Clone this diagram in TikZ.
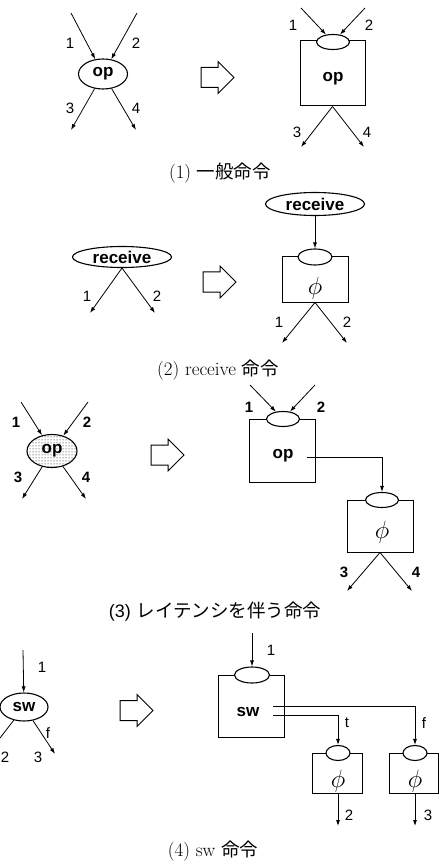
\documentclass[tikz,border=0pt]{standalone}
\usepackage{fontspec}
\usetikzlibrary{arrows.meta,shapes.geometric,patterns}
\newfontfamily\hv{Liberation Sans}
\newfontfamily\jp{Noto Sans CJK JP}
\tikzset{
  conn/.style={line width=0.8pt,-{Latex[length=6pt,width=4pt]}},
  plainline/.style={line width=0.8pt},
  bigell/.style={ellipse,draw,line width=1.1pt,inner sep=0pt,fill=white},
  smell/.style={ellipse,draw,line width=1.1pt,fill=white,minimum width=33pt,minimum height=15pt,inner sep=0pt},
  blk/.style={draw,line width=1pt,rectangle,inner sep=0pt},
  num/.style={font=\hv\fontsize{15}{15}\selectfont,inner sep=0pt},
  bnum/.style={font=\hv\bfseries\fontsize{15}{15}\selectfont,inner sep=0pt},
  optxt/.style={font=\hv\bfseries\fontsize{17}{17}\selectfont,inner sep=0pt},
  phitxt/.style={font=\fontsize{25}{25}\selectfont,inner sep=0pt},
  captxt/.style={font=\fontsize{19}{19}\selectfont,inner sep=0pt},
  hollow/.pic={\draw[line width=1pt,fill=white] (0,-10) -- (17,-10) -- (17,-16) -- (33,0) -- (17,16) -- (17,10) -- (0,10) -- cycle;}
}
\newcommand{\jcap}[1]{{\jp\fontsize{18.5}{18.5}\selectfont #1}}
\begin{document}
\begin{tikzpicture}[x=1pt,y=-1pt]
\useasboundingbox (0,0) rectangle (442,866);

% ===== (1) =====
\node[bigell,minimum width=49pt,minimum height=30pt,optxt] (op1) at (103,74) {op};
\coordinate (a1) at (71,13);
\coordinate (a2) at (137,13);
\coordinate (a3) at (71,130);
\coordinate (a4) at (136,130);
\draw[conn] (a1) -- (op1);
\draw[conn] (a2) -- (op1);
\draw[conn] (op1) -- (a3);
\draw[conn] (op1) -- (a4);
\node[num] (l11) at (70,43) {1};
\node[num] (l12) at (136,43) {2};
\node[num] (l13) at (70,108) {3};
\node[num] (l14) at (136,108) {4};
\pic at (201,77.5) {hollow};

\node[blk,minimum width=65pt,minimum height=65pt] (b1) at (332.5,73.5) {};
\node[smell] (e1) at (333,42) {};
\node[optxt] (t1) at (333,79) {op};
\coordinate (r1) at (301,8);
\coordinate (r2) at (365,8);
\coordinate (r3) at (301,147);
\coordinate (r4) at (364,147);
\draw[conn] (r1) -- (e1);
\draw[conn] (r2) -- (e1);
\draw[conn] (b1.south) -- (r3);
\draw[conn] (b1.south) -- (r4);
\node[num] (m11) at (293,25) {1};
\node[num] (m12) at (369,25) {2};
\node[num] (m13) at (297,132) {3};
\node[num] (m14) at (367,132) {4};
\node[captxt] (cap1) at (220,173) {(1) \jcap{一般命令}};

% ===== (2) =====
\node[bigell,minimum width=99pt,minimum height=21pt,optxt] (rc1) at (122,257) {receive};
\coordinate (p1) at (90,313);
\coordinate (p2) at (155,313);
\draw[conn] (rc1.south) -- (p1);
\draw[conn] (rc1.south) -- (p2);
\node[num] (l21) at (87,296) {1};
\node[num] (l22) at (157,296) {2};
\pic at (203,282) {hollow};

\node[bigell,minimum width=99pt,minimum height=23pt,optxt] (rc2) at (315,204) {receive};
\node[blk,minimum width=66pt,minimum height=45pt] (b2) at (315,279.5) {};
\node[smell,minimum width=34pt,minimum height=16pt] (e2) at (315,257) {};
\node[phitxt] (ph2) at (315,288) {$\phi$};
\draw[conn] (rc2) -- (e2);
\coordinate (q1) at (282,343);
\coordinate (q2) at (347,343);
\draw[conn] (b2.south) -- (q1);
\draw[conn] (b2.south) -- (q2);
\node[num] (m21) at (279,322) {1};
\node[num] (m22) at (347,322) {2};
\node[captxt] (cap2) at (218,370) {(2) receive \jcap{命令}};

% ===== (3) =====
\node[ellipse,draw,line width=1.1pt,inner sep=0pt,pattern=dots,minimum width=50pt,minimum height=33pt] (op3) at (52,451) {};
\node[optxt] (op3t) at (52,451) {op};
\coordinate (c1) at (21,402);
\coordinate (c2) at (88,402);
\coordinate (c3) at (22,499);
\coordinate (c4) at (86,499);
\draw[conn] (c1) -- (op3);
\draw[conn] (c2) -- (op3);
\draw[conn] (op3) -- (c3);
\draw[conn] (op3) -- (c4);
\node[bnum] (l31) at (16,422) {1};
\node[bnum] (l32) at (87,422) {2};
\node[bnum] (l33) at (18,477) {3};
\node[bnum] (l34) at (86,477) {4};
\pic at (151,455) {hollow};

\node[blk,minimum width=66pt,minimum height=63pt] (b3) at (282,450.5) {};
\node[smell] (e3) at (283,419) {};
\node[optxt] (t3) at (283,456) {op};
\coordinate (d1) at (250,385);
\coordinate (d2) at (315,385);
\draw[conn] (d1) -- (e3);
\draw[conn] (d2) -- (e3);
\node[bnum] (m31) at (249,407) {1};
\node[bnum] (m32) at (321,407) {2};
\node[blk,minimum width=66pt,minimum height=52pt] (b3b) at (380,526) {};
\node[smell] (e3b) at (382,500) {};
\node[phitxt] (ph3) at (382,532) {$\phi$};
\coordinate (o3) at (307,457);
\draw[conn] (o3) -| (e3b);
\coordinate (d3) at (347,591);
\coordinate (d4) at (412,591);
\draw[conn] (b3b.south) -- (d3);
\draw[conn] (b3b.south) -- (d4);
\node[bnum] (m33) at (344,572) {3};
\node[bnum] (m34) at (416,572) {4};
\node[captxt] (cap3) at (215,612) {{\hv\fontsize{18}{18}\selectfont (3)} \jcap{レイテンシを伴う命令}};

% ===== (4) =====
\node[bigell,minimum width=48pt,minimum height=28pt,optxt] (sw1) at (24,707) {sw};
\coordinate (s0) at (23,650);
\coordinate (sL) at (0,738);
\coordinate (sR) at (55,754);
\draw[conn] (s0) -- (sw1);
\draw[plainline] (sw1) -- (sL);
\draw[conn] (sw1) -- (sR);
\node[num] (l41) at (42,667) {1};
\node[num] (l4f) at (48,733) {f};
\node[num] (l42) at (5,757) {2};
\node[num] (l43) at (38,757) {3};
\pic at (120,710.5) {hollow};

\node[blk,minimum width=66pt,minimum height=62pt] (b4) at (251,706) {};
\node[smell,minimum width=35pt,minimum height=16pt] (e4) at (252,675) {};
\node[optxt] (t4) at (248,712) {sw};
\coordinate (g0) at (252,633);
\draw[conn] (g0) -- (e4);
\node[num] (m41) at (271,650) {1};
\node[blk,minimum width=50pt,minimum height=40pt] (b4t) at (337,773) {};
\node[blk,minimum width=49pt,minimum height=40pt] (b4f) at (413.5,773) {};
\node[smell,minimum width=24pt,minimum height=15pt] (e4t) at (338,753) {};
\node[smell,minimum width=24pt,minimum height=15pt] (e4f) at (415,753) {};
\node[phitxt] (ph4t) at (338,781) {$\phi$};
\node[phitxt] (ph4f) at (415,781) {$\phi$};
\coordinate (of) at (273,706);
\coordinate (ot) at (273,715);
\draw[conn] (of) -| (e4f);
\draw[conn] (ot) -| (e4t);
\node[num] (m4t) at (347,723) {t};
\node[num] (m4f) at (424,723) {f};
\coordinate (z2) at (338,826);
\coordinate (z3) at (415,826);
\draw[conn] (b4t.south -| e4t) -- (z2);
\draw[conn] (b4f.south -| e4f) -- (z3);
\node[num] (m42) at (349,815) {2};
\node[num] (m43) at (428,815) {3};
\node[captxt] (cap4) at (213,851) {(4) sw \jcap{命令}};
\end{tikzpicture}
\end{document}
